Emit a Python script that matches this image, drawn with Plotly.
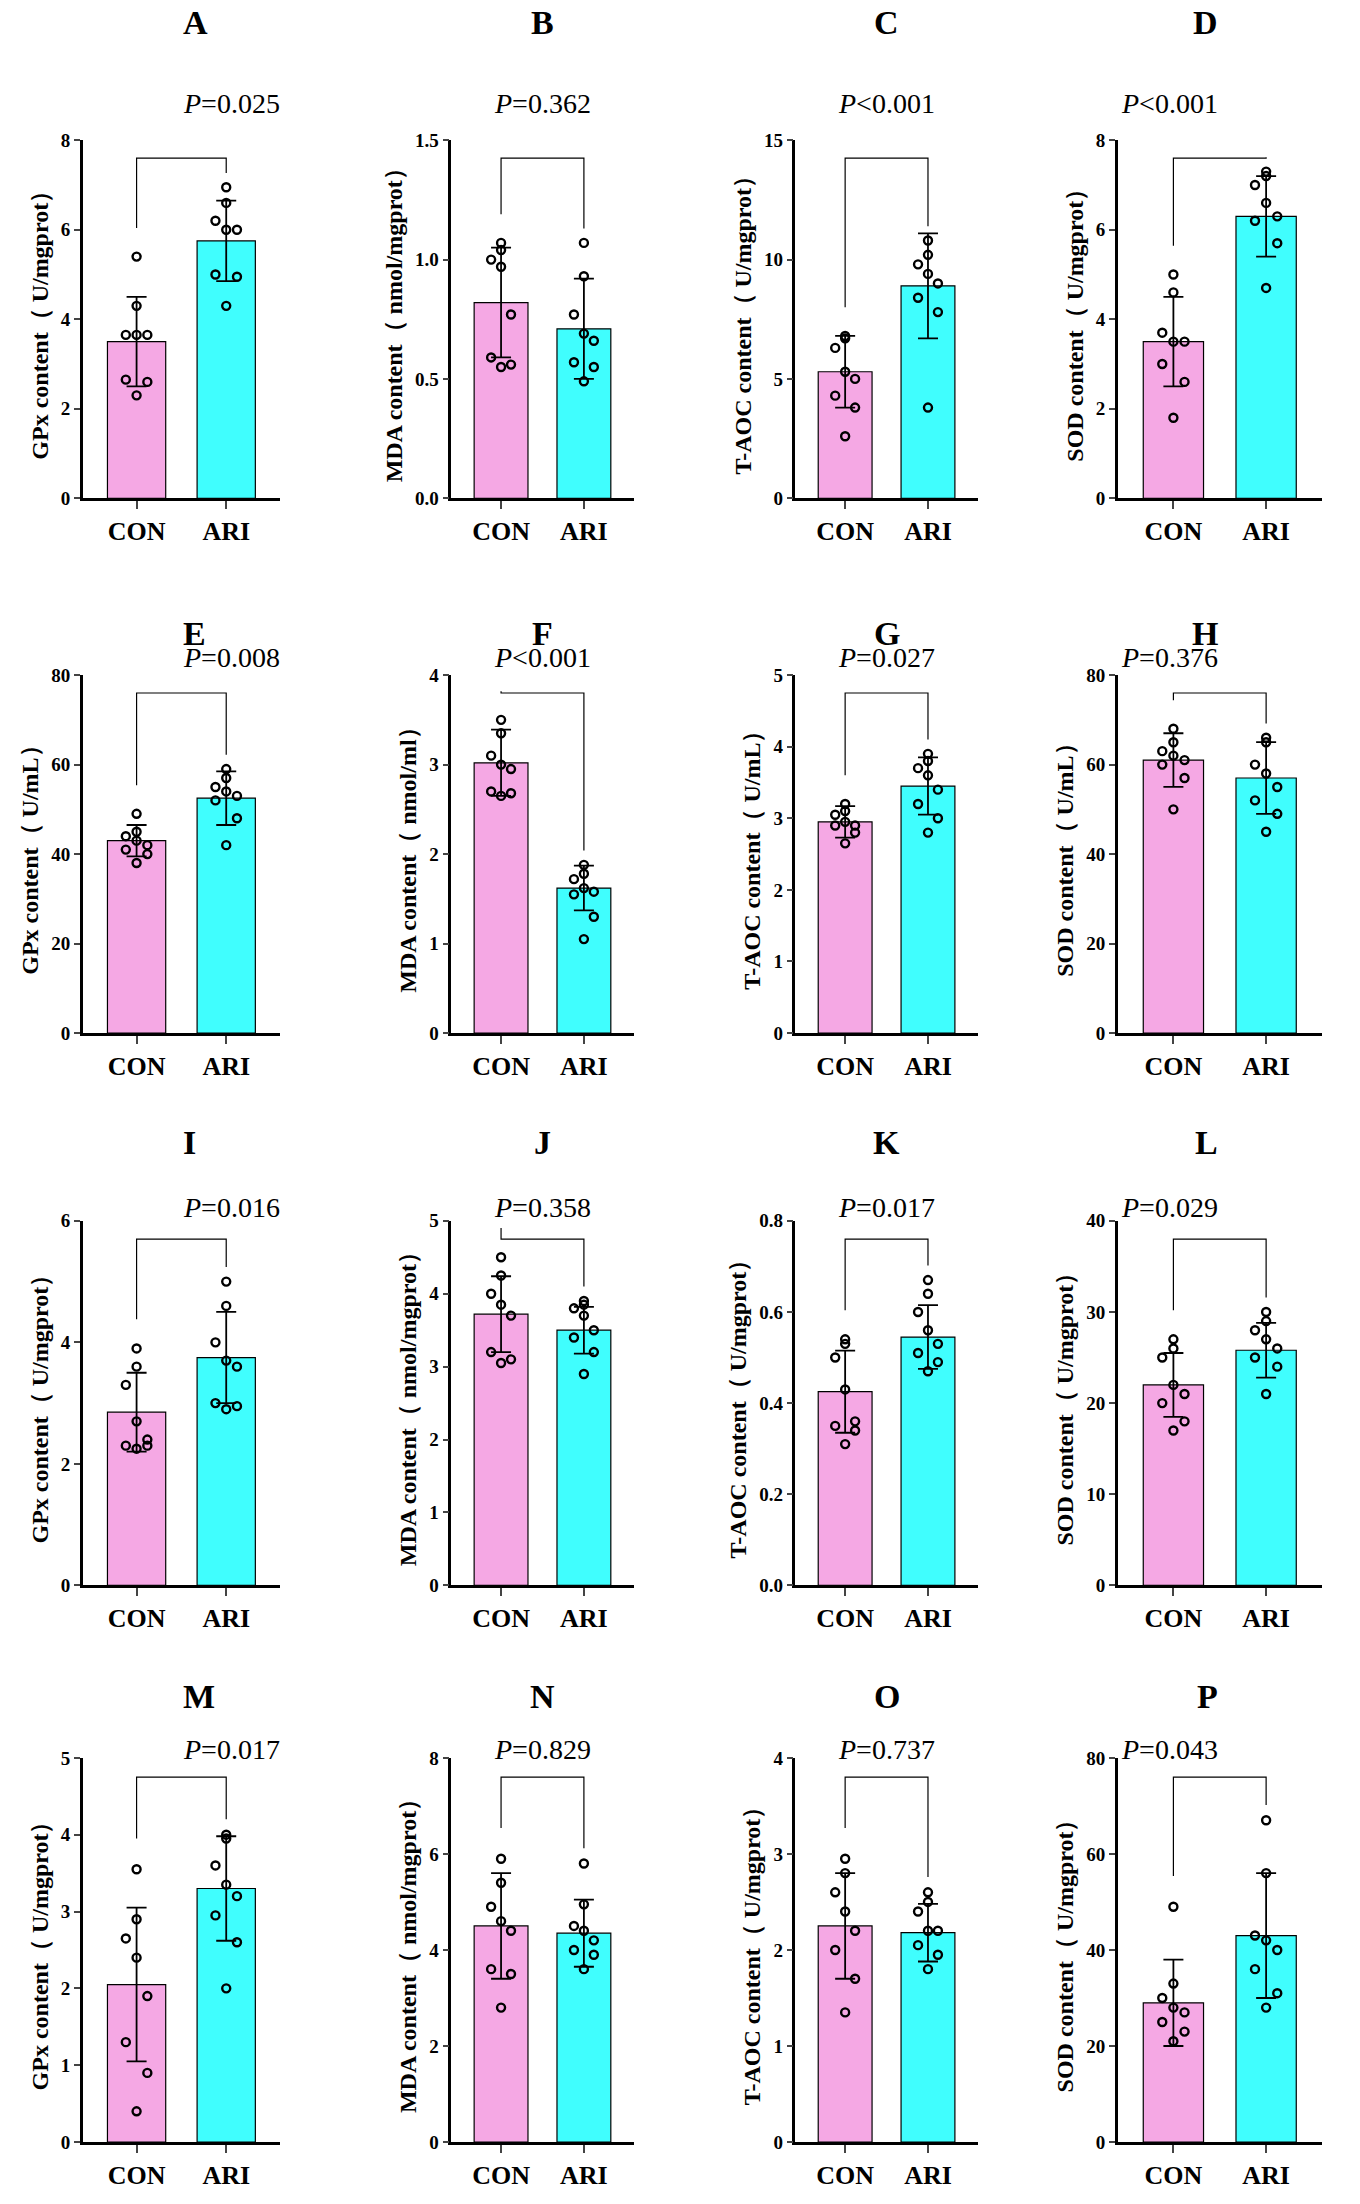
import plotly.graph_objects as go

groups = ["CON", "ARI"]
letters = list("ABCDEFGHIJKLMNOP")
p_values = ["=0.025", "=0.362", "<0.001", "<0.001", "=0.008", "<0.001", "=0.027", "=0.376",
            "=0.016", "=0.358", "=0.017", "=0.029", "=0.017", "=0.829", "=0.737", "=0.043"]
y_titles = ["GPx content（ U/mgprot）", "MDA content（ nmol/mgprot）", "T-AOC content（ U/mgprot）", "SOD content（ U/mgprot）",
            "GPx content（ U/mL）", "MDA content（ nmol/ml）", "T-AOC content（ U/mL）", "SOD content（ U/mL）",
            "GPx content（ U/mgprot）", "MDA content（ nmol/mgprot）", "T-AOC content（ U/mgprot）", "SOD content（ U/mgprot）",
            "GPx content（ U/mgprot）", "MDA content（ nmol/mgprot）", "T-AOC content（ U/mgprot）", "SOD content（ U/mgprot）"]
y_max = [8, 1.5, 15, 8, 80, 4, 5, 80, 6, 5, 0.8, 40, 5, 8, 4, 80]
y_dtick = [2, 0.5, 5, 2, 20, 1, 1, 20, 2, 1, 0.2, 10, 1, 2, 1, 20]
con_mean = [3.5, 0.82, 5.3, 3.5, 43, 3.02, 2.95, 61, 2.85, 3.72, 0.425, 22, 2.05, 4.5, 2.25, 29]
con_sd = [1.0, 0.23, 1.5, 1.0, 3.5, 0.37, 0.22, 6, 0.65, 0.52, 0.09, 3.5, 1.0, 1.1, 0.55, 9]
ari_mean = [5.75, 0.71, 8.9, 6.3, 52.5, 1.62, 3.45, 57, 3.75, 3.5, 0.545, 25.8, 3.3, 4.35, 2.18, 43]
ari_sd = [0.9, 0.21, 2.2, 0.9, 6, 0.25, 0.4, 8, 0.75, 0.32, 0.07, 3, 0.68, 0.7, 0.3, 13]
con_pts = [
    [5.4, 4.3, 3.65, 3.65, 3.65, 2.65, 2.6, 2.3],
    [1.07, 1.04, 1.0, 0.97, 0.77, 0.59, 0.56, 0.55],
    [6.8, 6.7, 6.3, 5.3, 5.0, 4.3, 3.8, 2.6],
    [5.0, 4.6, 3.7, 3.5, 3.5, 3.0, 2.6, 1.8],
    [49, 45, 44, 43, 42, 41, 40, 38],
    [3.5, 3.35, 3.1, 3.0, 2.95, 2.7, 2.68, 2.65],
    [3.2, 3.1, 3.05, 2.95, 2.9, 2.9, 2.8, 2.65],
    [68, 65, 63, 62, 61, 60, 57, 50],
    [3.9, 3.6, 3.3, 2.7, 2.4, 2.3, 2.3, 2.25],
    [4.5, 4.25, 4.0, 3.85, 3.7, 3.2, 3.1, 3.05],
    [0.54, 0.53, 0.5, 0.43, 0.36, 0.35, 0.34, 0.31],
    [27, 26, 25, 22, 21, 20, 18, 17],
    [3.55, 2.9, 2.65, 2.4, 1.9, 1.3, 0.9, 0.4],
    [5.9, 5.4, 4.9, 4.6, 4.4, 3.6, 3.5, 2.8],
    [2.95, 2.8, 2.6, 2.4, 2.2, 2.0, 1.7, 1.35],
    [49, 33, 30, 28, 27, 25, 23, 21],
]
ari_pts = [
    [6.95, 6.6, 6.2, 6.0, 6.0, 5.0, 4.95, 4.3],
    [1.07, 0.93, 0.77, 0.69, 0.66, 0.57, 0.55, 0.49],
    [10.8, 10.2, 9.8, 9.4, 9.0, 8.4, 7.8, 3.8],
    [7.3, 7.2, 7.0, 6.6, 6.3, 6.2, 5.7, 4.7],
    [59, 57, 55, 54, 53, 52, 48, 42],
    [1.88, 1.78, 1.72, 1.62, 1.58, 1.55, 1.3, 1.05],
    [3.9, 3.8, 3.7, 3.6, 3.4, 3.2, 3.0, 2.8],
    [66, 65, 60, 58, 55, 52, 49, 45],
    [5.0, 4.6, 4.0, 3.7, 3.6, 3.0, 2.95, 2.9],
    [3.9, 3.85, 3.8, 3.7, 3.5, 3.4, 3.2, 2.9],
    [0.67, 0.64, 0.6, 0.56, 0.53, 0.51, 0.49, 0.47],
    [30, 29, 28, 27, 26, 25, 24, 21],
    [4.0, 3.95, 3.6, 3.35, 3.2, 2.95, 2.6, 2.0],
    [5.8, 4.95, 4.5, 4.4, 4.2, 4.0, 3.9, 3.6],
    [2.6, 2.5, 2.4, 2.2, 2.2, 2.05, 1.95, 1.8],
    [67, 56, 43, 42, 40, 36, 31, 28],
]

jitter = [0, 0, -0.12, 0, 0.12, -0.12, 0.12, 0]
x_dom = [(0.055, 0.2), (0.326, 0.46), (0.579, 0.713), (0.816, 0.966)]
y_dom = [(0.780, 0.944), (0.535, 0.699), (0.282, 0.449), (0.027, 0.203)]
letter_y = [0.998, 0.718, 0.485, 0.231]
p_y = [0.961, 0.707, 0.455, 0.207]
pink, cyan = "#f5a8e4", "#40fefe"
FONT = "Liberation Serif"

fig = go.Figure()
layout = {}
for i in range(16):
    r, c = divmod(i, 4)
    n = i + 1
    xa, ya = f"x{n}", f"y{n}"
    for k, (m, sd, pts, col) in enumerate([(con_mean[i], con_sd[i], con_pts[i], pink),
                                            (ari_mean[i], ari_sd[i], ari_pts[i], cyan)]):
        fig.add_trace(go.Bar(x=[k], y=[m], width=0.65, marker=dict(color=col, line=dict(color="black", width=1.2)),
                             error_y=dict(type="data", array=[sd], color="black", thickness=1.8, width=10),
                             xaxis=xa, yaxis=ya, showlegend=False))
        fig.add_trace(go.Scatter(x=[k + j for j in jitter], y=pts, mode="markers",
                                 marker=dict(symbol="circle-open", size=8, color="black", line=dict(width=2.4)),
                                 xaxis=xa, yaxis=ya, showlegend=False))
    ym = y_max[i]
    yb = ym * 0.95
    fig.add_shape(type="path", xref=xa, yref=ya,
                  path=f"M 0 {max(con_pts[i]) + ym * 0.08} L 0 {yb} L 1 {yb} L 1 {max(ari_pts[i]) + ym * 0.04}",
                  line=dict(color="black", width=1.2))
    sfx = "" if n == 1 else str(n)
    layout["xaxis" + sfx] = dict(domain=x_dom[c], anchor=ya, range=[-0.6, 1.6], tickvals=[0, 1],
                                 ticktext=[f"<b>{g}</b>" for g in groups],
                                 showline=True, linecolor="black", linewidth=2.5, ticks="outside", ticklen=8,
                                 tickwidth=2, tickfont=dict(size=26, family=FONT, color="black"), showgrid=False,
                                 zeroline=False)
    layout["yaxis" + sfx] = dict(domain=y_dom[r], anchor=xa, range=[0, ym], dtick=y_dtick[i],
                                 showline=True, linecolor="black", linewidth=2.5, ticks="outside", ticklen=6,
                                 tickwidth=2, tickfont=dict(size=19, family=FONT, color="black", weight="bold"),
                                 showgrid=False, zeroline=False, tickformat=".1f" if y_dtick[i] < 1 else "d",
                                 title=dict(text=f"<b>{y_titles[i]}</b>", font=dict(size=24, family=FONT, color="black"),
                                            standoff=6))
    xm = (x_dom[c][0] + x_dom[c][1]) / 2
    fig.add_annotation(xref="paper", yref="paper", x=xm, y=letter_y[r], yanchor="middle", text=f"<b>{letters[i]}</b>",
                       showarrow=False, font=dict(size=34, family=FONT, color="black"))
    fig.add_annotation(xref="paper", yref="paper", x=xm, y=p_y[r], yanchor="middle", text=f"<i>P</i>{p_values[i]}",
                       showarrow=False, font=dict(size=28, family=FONT, color="black"))

fig.update_layout(width=1360, height=2204, margin=dict(l=0, r=0, t=0, b=0),
                  plot_bgcolor="white", paper_bgcolor="white", **layout)
fig.write_html("out.html")
